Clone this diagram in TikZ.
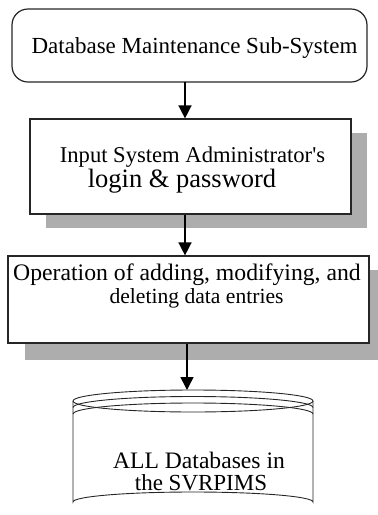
\documentclass[tikz,border=0pt]{standalone}
\usepackage{fontspec}
\setmainfont{Liberation Serif}
% plain family, so that ' stays a straight quote
\newfontfamily\labelfont{Liberation Serif}
\usetikzlibrary{arrows.meta}
\newcommand\lblsize[1]{\labelfont\fontsize{#1}{#1}\selectfont}
\begin{document}
\begin{tikzpicture}[x=1pt,y=-1pt,
  boxline/.style={draw=black!85,line width=1.2pt},
  shadowfill/.style={fill=black!32,draw=none},
  lbl/.style={anchor=base,inner sep=0pt,font=\lblsize{23}},
  arr/.style={line width=1.5pt,-{Triangle[length=13pt,width=13pt]}},
  dbline/.style={draw=black!85,line width=0.9pt}]
  \useasboundingbox (0,0) rectangle (378,515);
  \clip (0,0) rectangle (378,515);

  % entry point of the sub-system
  \draw[boxline,rounded corners=16pt] (12,9) rectangle (367,82);
  \node[inner sep=0pt,minimum width=355pt,minimum height=73pt] (start) at (189.5,45.5) {};
  \node[lbl] (t1) at (194.5,53) {Database Maintenance Sub-System};

  % login step with drop shadow
  \fill[shadowfill] (46,133) rectangle (367,228);
  \node[boxline,fill=white,inner sep=0pt,minimum width=321pt,minimum height=95pt] (login) at (190.5,166.5) {};
  \node[lbl,font=\lblsize{22.6}] (t2a) at (192.5,162) {Input System Administrator's};
  \node[lbl,font=\lblsize{26.5}] (t2b) at (182,187) {login \& password};

  % editing step with drop shadow
  \fill[shadowfill] (25,270) rectangle (386,360);
  \node[boxline,fill=white,inner sep=0pt,minimum width=361pt,minimum height=87pt] (edit) at (188.5,299.5) {};
  \node[lbl,font=\lblsize{23.7}] (t3a) at (187,280) {Operation of adding, modifying, and};
  \node[lbl,font=\lblsize{21.6}] (t3b) at (196.5,303) {deleting data entries};

  % database cylinder
  \coordinate (dbtop) at (193,390);
  \draw[dbline] (73,401) arc[start angle=180,end angle=-180,x radius=120,y radius=11];
  \draw[dbline] (73,407.5) arc[start angle=180,end angle=360,x radius=120,y radius=11];
  \draw[dbline] (73,414) arc[start angle=180,end angle=360,x radius=120,y radius=11];
  \draw[dbline] (73,401) -- (73,502) arc[start angle=180,end angle=360,x radius=120,y radius=10] -- (313,401);
  \node[lbl,font=\lblsize{23.6}] (t4a) at (199,468) {ALL Databases in};
  \node[lbl,font=\lblsize{23}] (t4b) at (201,490) {the SVRPIMS};

  % connectors
  \coordinate (c1) at (185,0);
  \coordinate (c3) at (187,0);
  \draw[arr] (start.south -| c1) -- (login.north -| c1);
  \draw[arr] (login.south -| c1) -- (edit.north -| c1);
  \draw[arr] (edit.south -| c3) -- (dbtop -| c3);
\end{tikzpicture}
\end{document}
